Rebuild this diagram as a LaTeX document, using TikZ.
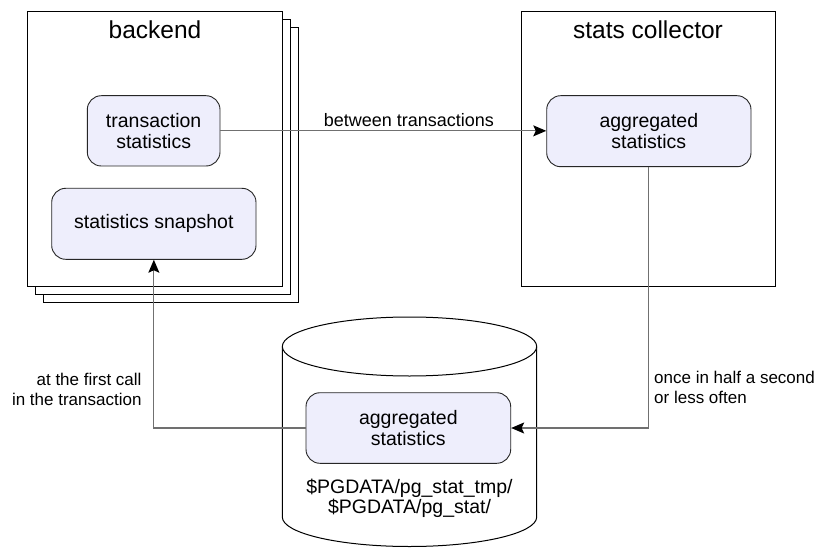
\documentclass[tikz,border=0pt]{standalone}
\usepackage{fontspec}
\setmainfont{Liberation Sans}
\usetikzlibrary{arrows.meta}
\definecolor{boxfill}{HTML}{EEEEFC}
\definecolor{linegray}{HTML}{707070}
\tikzset{
  frame/.style={draw=black, line width=1pt, fill=white, inner sep=0pt},
  statbox/.style={draw=black!85, line width=0.9pt, fill=boxfill, rounded corners=14pt,
    align=center, font=\fontsize{19.5}{21}\selectfont, inner sep=0pt},
  title/.style={font=\fontsize{24.5}{26}\selectfont, anchor=base, inner sep=0pt},
  lbl/.style={font=\fontsize{17}{20}\selectfont, inner sep=0pt},
  conn/.style={draw=linegray, line width=1.2pt, -{Stealth[length=13pt,width=11pt,inset=2.5pt,color=black]}},
}
\begin{document}
\begin{tikzpicture}[x=1pt,y=-1pt]
\useasboundingbox (0,0) rectangle (816,548);
% backend stacked pages
\node[frame, minimum width=255pt, minimum height=274.3pt] (bk3) at (171.2,164.85) {};
\node[frame, minimum width=255pt, minimum height=274.3pt] (bk2) at (163.2,156.85) {};
\node[frame, minimum width=255pt, minimum height=274.3pt] (bk) at (155.2,148.85) {};
\node[title] (bkt) at (155,39) {backend};
\node[statbox, minimum width=132.7pt, minimum height=70.3pt] (ts) at (153.65,130.85) {transaction\\statistics};
\node[statbox, minimum width=204.3pt, minimum height=71pt] (ss) at (153.85,223.8) {statistics snapshot};
% stats collector
\node[frame, minimum width=254.3pt, minimum height=274.3pt] (sc) at (648.15,148.85) {};
\node[title] (sct) at (648,39) {stats collector};
\node[statbox, minimum width=204.3pt, minimum height=71pt] (ca) at (648.85,131.2) {aggregated\\statistics};
% cylinder
\coordinate (cyl) at (409.5,346.5);
\draw[black, line width=1pt, fill=white] (282.3,346.5) -- (282.3,517) arc[start angle=180, end angle=360, x radius=127.2, y radius=-29.5] -- (536.7,346.5);
\draw[black, line width=1pt, fill=white] (cyl) ellipse [x radius=127.2, y radius=29.5];
\node[statbox, minimum width=204.7pt, minimum height=70.6pt] (db) at (408.35,428) {aggregated\\statistics};
\node[font=\fontsize{19.5}{20.3}\selectfont, align=center, anchor=north, inner sep=0pt] (path) at (409.5,478.8) {\$PGDATA/pg\_stat\_tmp/\\\$PGDATA/pg\_stat/};
% connectors
\draw[conn] (ts.east) -- (ts.east -| ca.west);
\node[lbl, font=\fontsize{18}{20}\selectfont, anchor=base] (bt) at (408.9,126.7) {between transactions};
\draw[conn] (ca.south) |- (db.east);
\node[lbl, align=left, anchor=north west] (once) at (654,370.8) {once in half a second\\or less often};
\draw[conn] (db.west) -| (ss.south);
\node[lbl, align=right, anchor=north east] (first) at (141.7,372.5) {at the first call\\in the transaction};
\end{tikzpicture}
\end{document}
